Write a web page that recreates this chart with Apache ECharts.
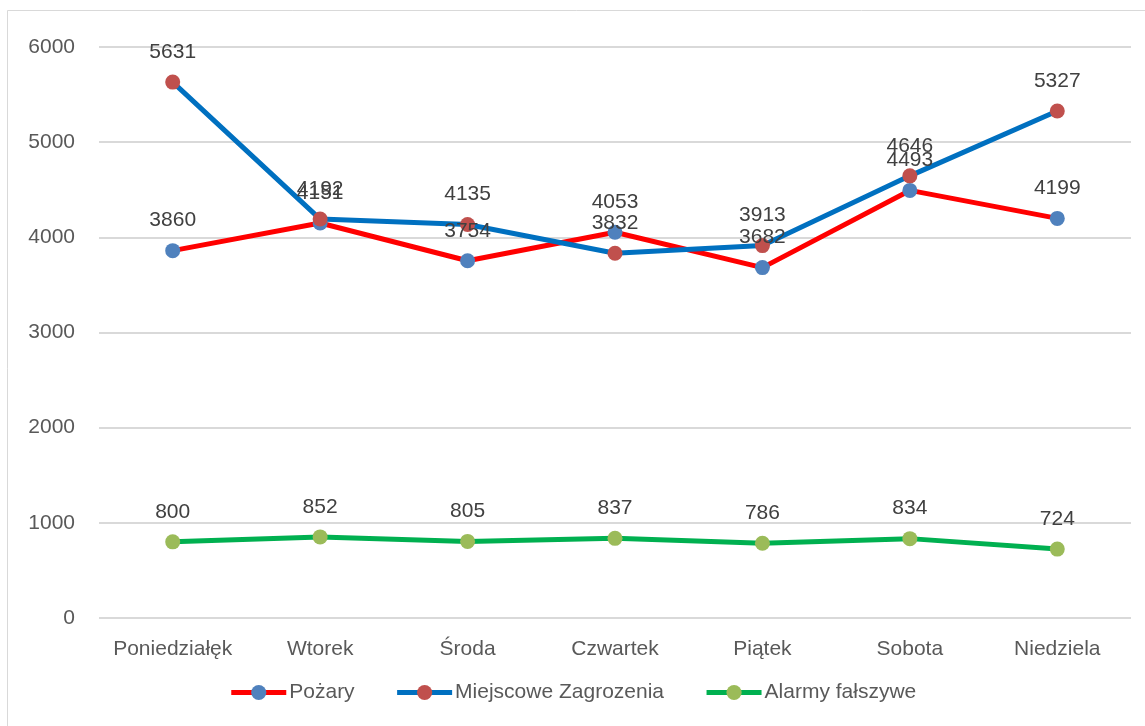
<!DOCTYPE html>
<html>
<head>
<meta charset="utf-8">
<style>
    html, body {
        margin: 0;
        padding: 0;
        background: #ffffff;
    }

    #chart {
        width: 1145px;
        height: 726px;
    }
</style>
<script src="https://cdn.jsdelivr.net/npm/echarts@6/dist/echarts.min.js"></script>
</head>
<body>
<div id="chart"></div>
<script>
const days = ['Poniedziałęk', 'Wtorek', 'Środa', 'Czwartek', 'Piątek', 'Sobota', 'Niedziela'];
const pozary = [3860, 4151, 3754, 4053, 3682, 4493, 4199];
const miejscowe = [5631, 4192, 4135, 3832, 3913, 4646, 5327];
const alarmy = [800, 852, 805, 837, 786, 834, 724];

const fontFamily = '"Liberation Sans", "DejaVu Sans", sans-serif';

function makeSeries(name, data, lineColor, markerColor) {
    return {
        name: name,
        type: 'line',
        data: data,
        symbol: 'circle',
        symbolSize: 15,
        lineStyle: {
            color: lineColor,
            width: 5
        },
        itemStyle: {
            color: markerColor
        },
        label: {
            show: true,
            position: 'top',
            distance: 12,
            color: '#404040',
            fontSize: 21,
            fontFamily: fontFamily
        },
        emphasis: {
            disabled: true
        },
        animation: false
    };
}

const chart = echarts.init(document.getElementById('chart'));
chart.setOption({
    backgroundColor: '#ffffff',
    textStyle: {
        fontFamily: fontFamily
    },
    graphic: [
        {
            type: 'rect',
            silent: true,
            shape: { x: 7.5, y: 10.5, width: 1300, height: 900 },
            style: { fill: 'none', stroke: '#d9d9d9', lineWidth: 1 }
        }
    ],
    grid: {
        left: 99,
        right: 14,
        top: 47,
        bottom: 108,
        containLabel: false
    },
    legend: {
        bottom: 18,
        left: 'center',
        itemWidth: 55,
        itemHeight: 19,
        itemGap: 40,
        lineStyle: {
            width: 5
        },
        textStyle: {
            color: '#595959',
            fontSize: 21,
            padding: [0, 0, 0, -2]
        },
        data: ['Pożary', 'Miejscowe Zagrozenia', 'Alarmy fałszywe']
    },
    xAxis: {
        type: 'category',
        data: days,
        boundaryGap: true,
        axisLine: {
            show: false
        },
        axisTick: {
            show: false
        },
        axisLabel: {
            interval: 0,
            color: '#595959',
            fontSize: 21,
            margin: 21
        }
    },
    yAxis: {
        type: 'value',
        min: 0,
        max: 6000,
        interval: 1000,
        axisLine: {
            show: false
        },
        axisTick: {
            show: false
        },
        axisLabel: {
            color: '#595959',
            fontSize: 21,
            margin: 24,
            formatter: function (v) {
                return String(v);
            }
        },
        splitLine: {
            lineStyle: {
                color: '#d9d9d9',
                width: 2
            }
        }
    },
    series: [
        makeSeries('Pożary', pozary, '#ff0000', '#4f81bd'),
        makeSeries('Miejscowe Zagrozenia', miejscowe, '#0070c0', '#c0504d'),
        makeSeries('Alarmy fałszywe', alarmy, '#00b050', '#9bbb59')
    ]
});
</script>
</body>
</html>
